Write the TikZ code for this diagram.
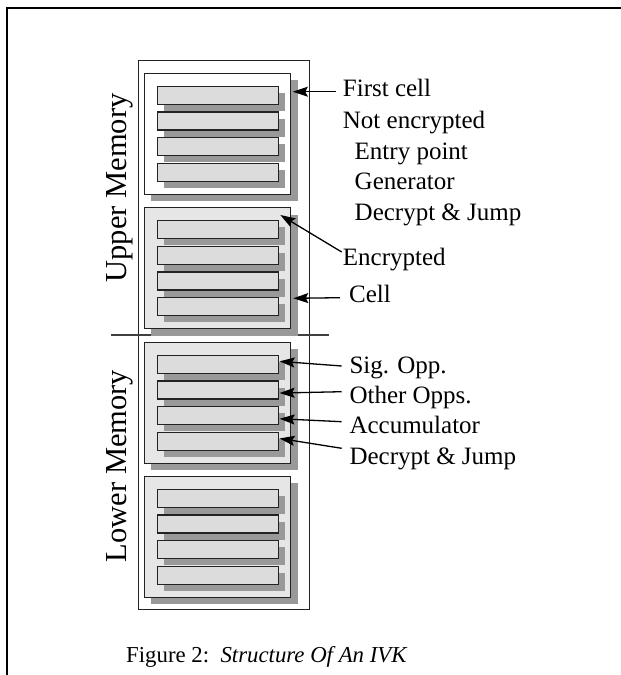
\documentclass[tikz,border=0pt]{standalone}
\usepackage{fontspec}
\setmainfont{Liberation Serif}
\usetikzlibrary{arrows.meta,calc,shadows}
\definecolor{shade}{HTML}{999999}
\definecolor{barfill}{HTML}{DCDCDC}
\definecolor{cellfill}{HTML}{E6E6E6}
\definecolor{edge}{HTML}{222222}
\begin{document}
\begin{tikzpicture}[x=1pt,y=-1pt,
  cellbox/.style={draw=edge,line width=1.3pt,minimum width=146.5pt,minimum height=121pt,inner sep=0pt,anchor=north west,
    drop shadow={shadow xshift=7pt,shadow yshift=-7pt,fill=shade,opacity=1}},
  barbox/.style={draw=edge,line width=1.3pt,fill=barfill,minimum width=121pt,minimum height=18pt,inner sep=0pt,anchor=north west,
    drop shadow={shadow xshift=6.5pt,shadow yshift=-6.5pt,fill=shade,opacity=1}},
  lab/.style={anchor=base west,inner sep=0pt,font=\fontsize{25}{29}\selectfont},
  sidelab/.style={rotate=90,inner sep=0pt,font=\fontsize{30.5}{35}\selectfont},
  arr/.style={line width=1.3pt,-{Stealth[length=15pt,width=10pt,inset=2.5pt]}}
  ]
\useasboundingbox (0,0) rectangle (621,675);
\fill[white] (0,0) rectangle (621,675);
% page frame
\draw[line width=2.5pt] (7,675) -- (7,8) -- (621,8);
% memory column
\node[draw=edge,line width=1.3pt,minimum width=171pt,minimum height=549pt,inner sep=0pt,anchor=north west] (col) at (138,60) {};
% divider
\draw[line width=1.3pt,draw=black!75] (111,335) -- (329,335);
% cells and bars
\foreach \i/\t/\f in {1/72.7/white,2/207/cellfill,3/341.7/cellfill,4/475.7/cellfill}{
  \node[cellbox,fill=\f] (c\i) at (143.5,\t) {};
  \foreach \j in {1,2,3,4}{
    \node[barbox] (b\i\j) at (156.7,{\t+13+(\j-1)*25.7}) {};
  }
}
% side labels
\node[sidelab] (upper) at (120,188) {Upper Memory};
\node[sidelab] (lower) at (120,466) {Lower Memory};
% right labels
\node[lab] (lfirst) at (342.7,96.7) {First cell};
\node[lab] (lnot) at (342.7,128.3) {Not encrypted};
\node[lab] (lentry) at (354.5,159) {Entry point};
\node[lab] (lgen) at (354.5,189) {Generator};
\node[lab] (ldj1) at (354.5,220) {Decrypt \& Jump};
\node[lab] (lenc) at (342.7,265) {Encrypted};
\node[lab] (lcell) at (349,302.3) {Cell};
\node[lab] (lsig) at (349.3,373) {Sig. Opp.};
\node[lab] (loth) at (349.3,403) {Other Opps.};
\node[lab] (lacc) at (349.3,433.3) {Accumulator};
\node[lab] (ldj2) at (349.3,464) {Decrypt \& Jump};
% arrows
\draw[arr] ($(lfirst.base west)+(-7,-5)$) -- ($(c1.north east)+(1.5,19)$);
\draw[arr] ($(lenc.base west)+(-1,-13)$) -- ($(c2.north east)+(-11,8)$);
\draw[arr] ($(lcell.base west)+(-9,-4.6)$) -- ($(c2.south east)+(2,-31)$);
\draw[arr] ($(lsig.base west)+(-7.6,-7)$) -- ($(b31.east)+(0.6,-3)$);
\draw[arr] ($(loth.base west)+(-7.6,-11.3)$) -- ($(b32.east)+(0.6,3)$);
\draw[arr] ($(lacc.base west)+(-7.6,-11.6)$) -- ($(b33.east)+(0.6,3)$);
\draw[arr] ($(ldj2.base west)+(-7.6,-15.7)$) -- ($(b34.east)+(0.6,-3)$);
% caption
\node[anchor=base west,inner sep=0pt,font=\fontsize{22.8}{28}\selectfont] (cap) at (126,662) {Figure 2:\ \ \textit{Structure Of An IVK}};
\end{tikzpicture}
\end{document}
